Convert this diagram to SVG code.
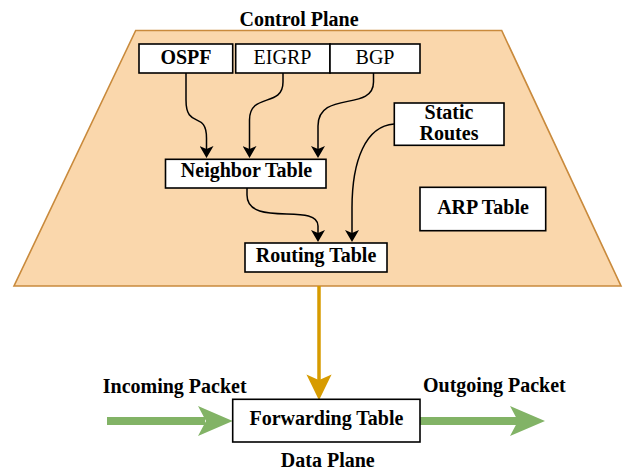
<svg xmlns="http://www.w3.org/2000/svg" width="623" height="470" viewBox="0 0 623 470">
  <style>
    .box { fill: #ffffff; stroke: #000000; stroke-width: 1.6; }
    .lbl { font-family: "Liberation Serif", "Times New Roman", serif; font-size: 20px; fill: #000000; text-anchor: middle; }
    .b { font-weight: bold; }
    .edge { fill: none; stroke: #000000; stroke-width: 1.5; }
  </style>
  <defs>
    <marker id="blk" viewBox="0 0 12 14" refX="3" refY="7" markerWidth="12" markerHeight="14" markerUnits="userSpaceOnUse" orient="auto">
      <path d="M0,0 L12,7 L0,14 L3,7 Z" fill="#000000"/>
    </marker>
  </defs>

  <!-- control plane region -->
  <g id="control-plane">
    <polygon points="135.7,30.5 501.7,30.5 621,286 14,286" fill="#fad7ac" stroke="#c98a3c" stroke-width="1.6"/>
    <text class="lbl b" x="299" y="26">Control Plane</text>
  </g>

  <!-- connectors -->
  <g id="connectors">
    <path class="edge" d="M186,73 L186,100 C186,130 206.5,110 206.5,138 L206.5,149" marker-end="url(#blk)"/>
    <path class="edge" d="M283,73 L283,82 C283,108 249.5,92 249.5,120 L249.5,149" marker-end="url(#blk)"/>
    <path class="edge" d="M373.5,73 L373.5,82 C373.5,112 318,90 318,126 L318,149" marker-end="url(#blk)"/>
    <path class="edge" d="M394,124 C366,126 352,160 352,208 L352,233" marker-end="url(#blk)"/>
    <path class="edge" d="M247,188 L247,195 C247,228 318,202 318,226 L318,233" marker-end="url(#blk)"/>
    <!-- control plane to data plane -->
    <path d="M319,286 L319,380" fill="none" stroke="#d79b00" stroke-width="3.5"/>
    <path d="M308,376 L319,398.5 L330,376 L319,381 Z" fill="#d79b00" stroke="#d79b00" stroke-width="1.5" stroke-linejoin="miter"/>
    <!-- packet flow -->
    <path d="M107,421 L205,421" fill="none" stroke="#82b366" stroke-width="8"/>
    <path d="M198,406 L232.7,421 L198,436 L206,421 Z" fill="#82b366"/>
    <path d="M420,421 L518,421" fill="none" stroke="#82b366" stroke-width="8"/>
    <path d="M510,406 L545,421 L510,436 L518,421 Z" fill="#82b366"/>
  </g>

  <g id="ospf">
    <rect class="box" x="139" y="44" width="93.7" height="29"/>
    <text class="lbl b" x="186" y="63.5">OSPF</text>
  </g>
  <g id="eigrp">
    <rect class="box" x="235.7" y="44" width="94.3" height="29"/>
    <text class="lbl" x="282.5" y="63.5">EIGRP</text>
  </g>
  <g id="bgp">
    <rect class="box" x="330" y="44" width="90" height="29"/>
    <text class="lbl" x="375" y="63.5">BGP</text>
  </g>
  <g id="static-routes">
    <rect class="box" x="394.3" y="103" width="109.7" height="42.3"/>
    <text class="lbl b" x="449" y="118.5">Static</text>
    <text class="lbl b" x="449" y="140">Routes</text>
  </g>
  <g id="neighbor-table">
    <rect class="box" x="165.5" y="159.3" width="160.5" height="28.7"/>
    <text class="lbl b" x="246.5" y="177">Neighbor Table</text>
  </g>
  <g id="arp-table">
    <rect class="box" x="420" y="187.3" width="125.7" height="43.4"/>
    <text class="lbl b" x="483" y="213.5">ARP Table</text>
  </g>
  <g id="routing-table">
    <rect class="box" x="245" y="243" width="142" height="29"/>
    <text class="lbl b" x="316" y="261.5">Routing Table</text>
  </g>

  <g id="forwarding-table">
    <rect class="box" x="232.7" y="399.3" width="187.3" height="42.7"/>
    <text class="lbl b" x="326.4" y="424.5">Forwarding Table</text>
  </g>
  <g id="incoming-label">
    <text class="lbl b" x="174.7" y="393">Incoming Packet</text>
  </g>
  <g id="outgoing-label">
    <text class="lbl b" x="494.4" y="392">Outgoing Packet</text>
  </g>
  <g id="data-plane-label">
    <text class="lbl b" x="327.8" y="467">Data Plane</text>
  </g>
</svg>
